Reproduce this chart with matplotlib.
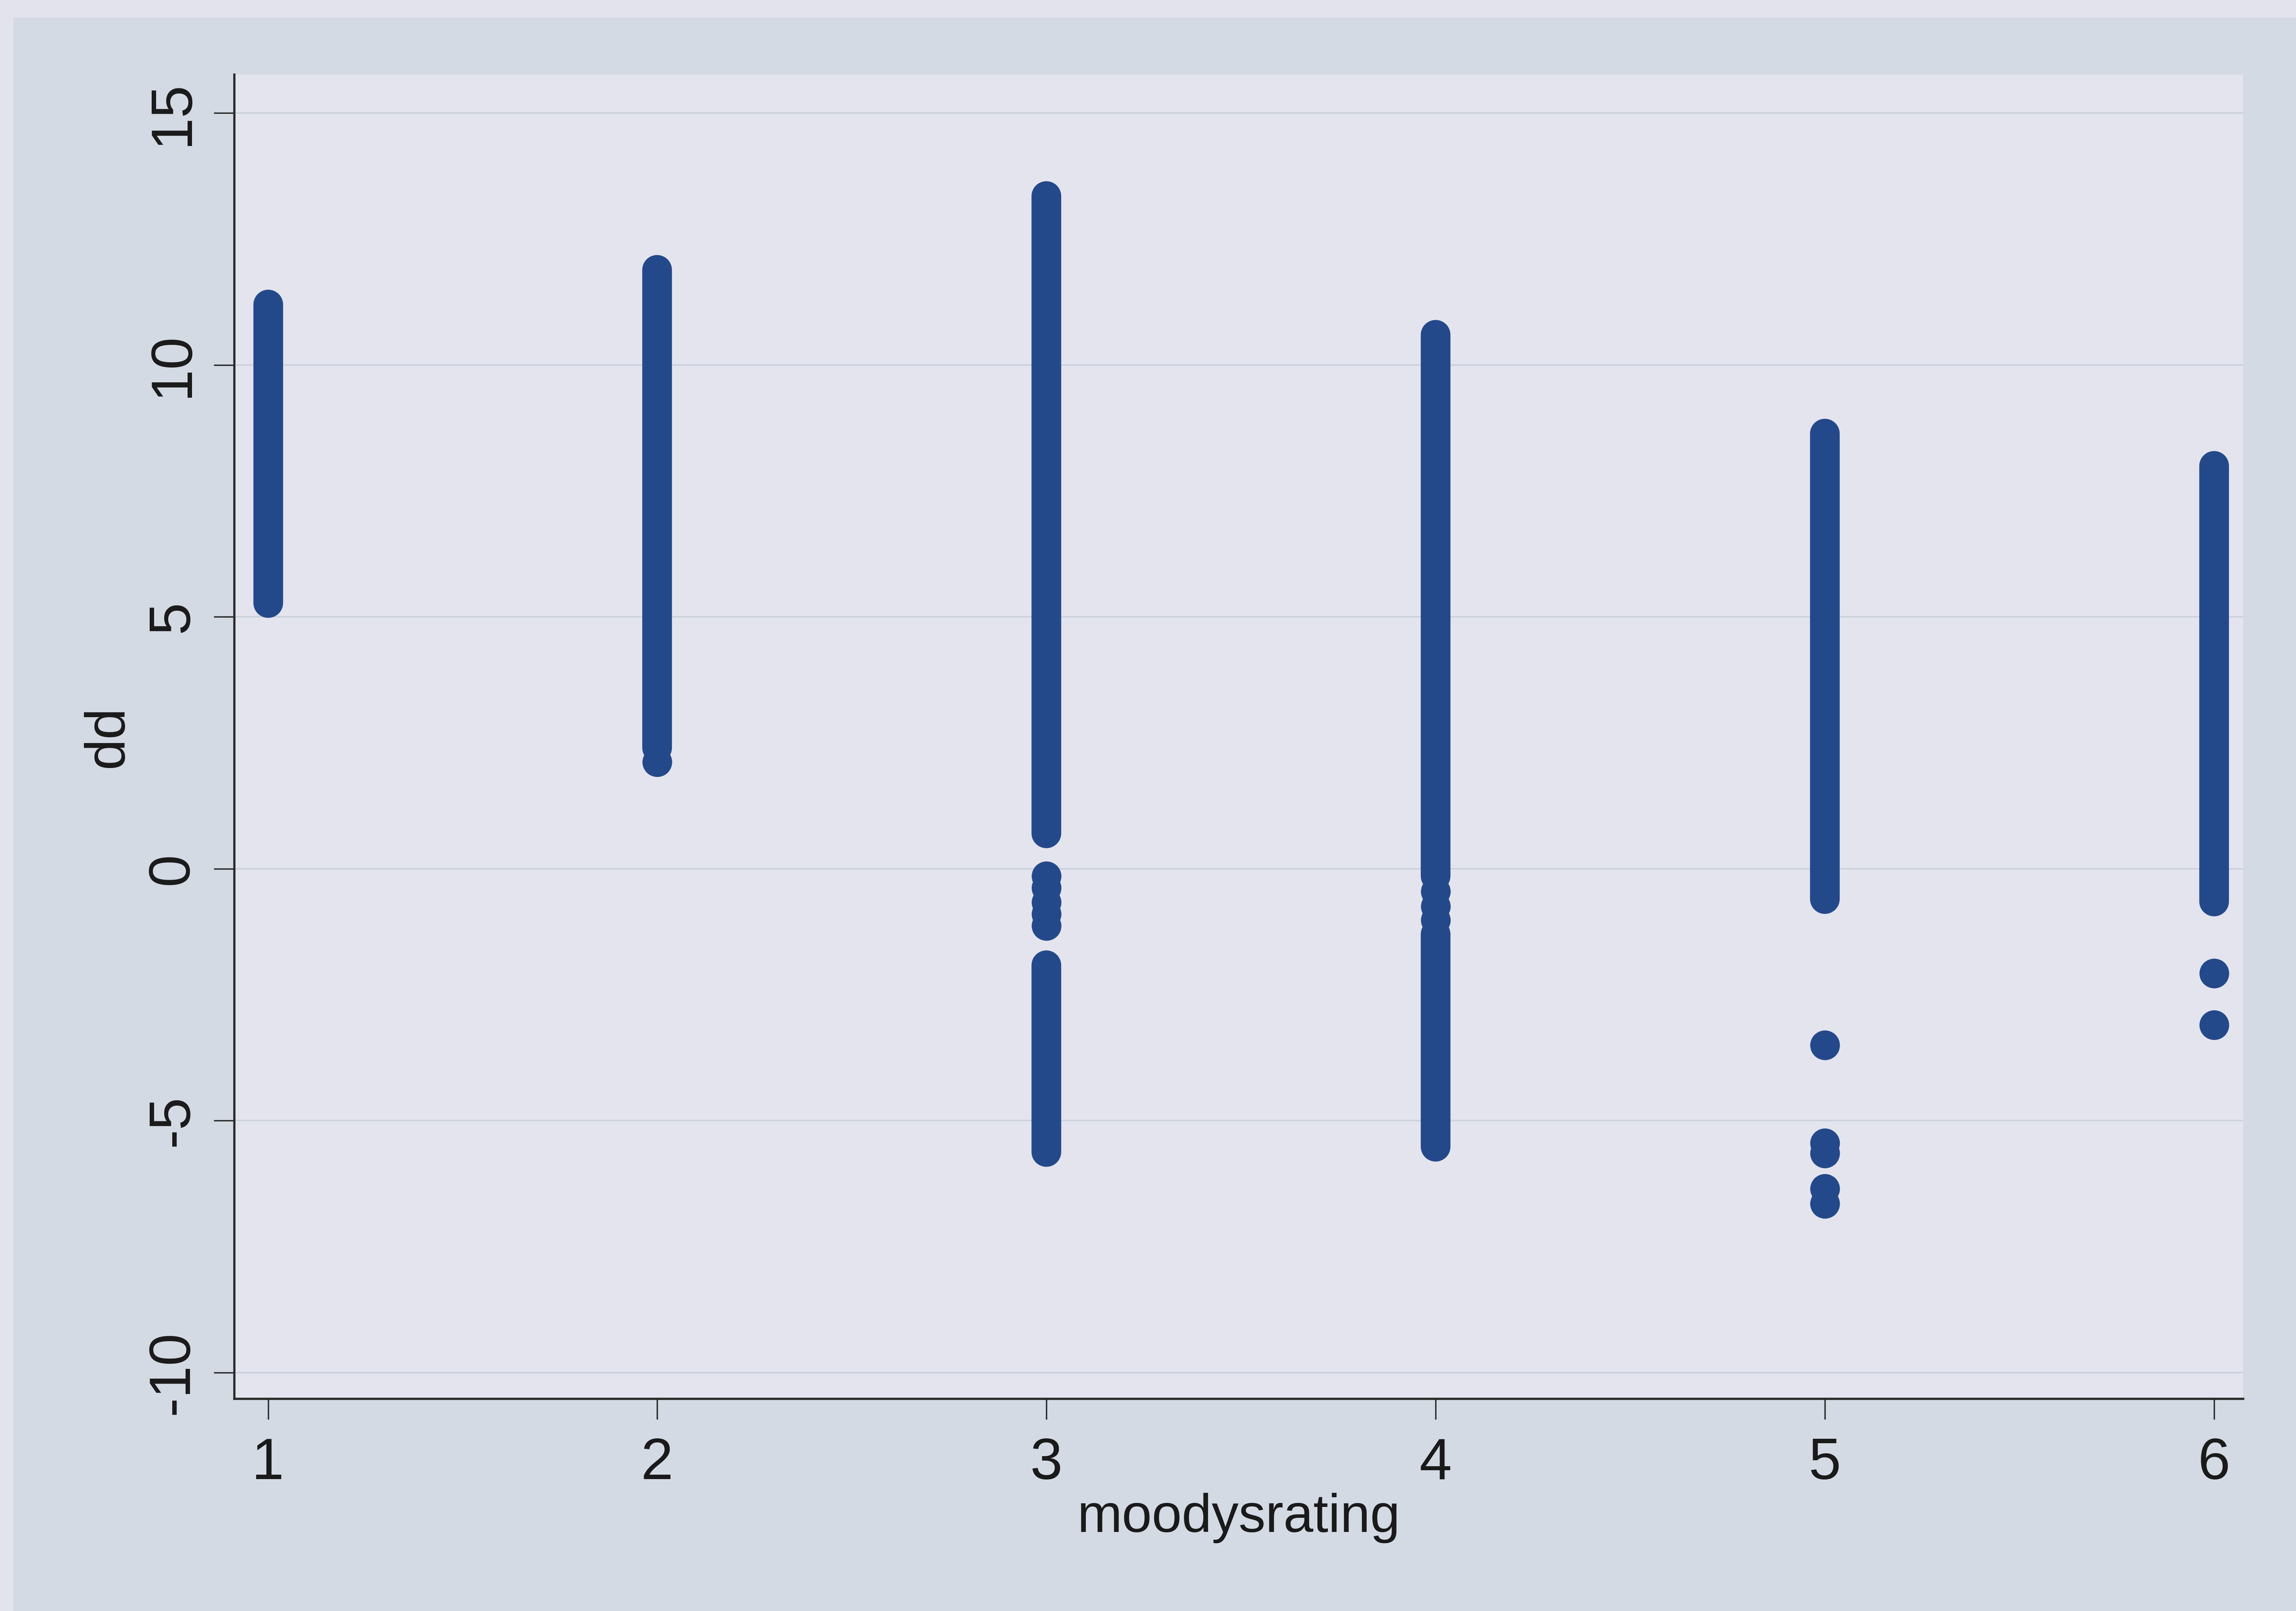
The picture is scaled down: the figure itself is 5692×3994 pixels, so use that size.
import matplotlib
matplotlib.use("Agg")
import matplotlib.pyplot as plt
from matplotlib.patches import Rectangle

plt.rcParams['font.family'] = ['Liberation Sans', 'DejaVu Sans']

# x axis categories
ratings = [1, 2, 3, 4, 5, 6]
x_tick_labels = ["1", "2", "3", "4", "5", "6"]
y_ticks = [-10, -5, 0, 5, 10, 15]

# dense runs of observations (rating, lowest dd, highest dd)
run_rating = [1, 2, 3, 3, 4, 4, 5, 6]
run_low = [5.27, 2.40, 0.70, -5.62, -0.15, -5.52, -0.60, -0.65]
run_high = [11.20, 11.89, 13.35, -1.92, 10.60, -1.30, 8.64, 8.00]

# isolated observations
pt_rating = [2, 3, 3, 3, 3, 3, 4, 4, 4, 5, 5, 5, 5, 5, 6, 6]
pt_dd = [2.12, -0.15, -0.38, -0.67, -0.90, -1.13, -0.45, -0.75, -1.02,
         -3.50, -5.45, -5.65, -6.35, -6.65, -2.08, -3.10]

MARK = '#24498a'

fig = plt.figure(figsize=(56.92, 39.94), dpi=100)
fig.patch.set_facecolor('#d4dae4')
fig.patches.append(Rectangle((0, 1 - 12 / 1100), 1, 12 / 1100, transform=fig.transFigure,
                             facecolor='#e2e3ec', edgecolor='none', zorder=-1))
fig.patches.append(Rectangle((0, 0), 9 / 1568, 1, transform=fig.transFigure,
                             facecolor='#e2e3ec', edgecolor='none', zorder=-1))

ax = fig.add_axes([0.1020, 0.1318, 0.875, 0.8218])
ax.set_facecolor('#e4e4ee')
ax.set_xlim(0.913, 6.075)
ax.set_ylim(-10.52, 15.76)

for s in ['top', 'right']:
    ax.spines[s].set_visible(False)
for s in ['left', 'bottom']:
    ax.spines[s].set_color('#2a2a2a')
    ax.spines[s].set_linewidth(4)

ax.set_axisbelow(True)
ax.yaxis.grid(True, color='#cbd2de', linewidth=2.8)

ax.vlines(run_rating, run_low, run_high, colors=MARK, linewidth=53, capstyle='round', zorder=3)
ax.scatter(pt_rating, pt_dd, s=53 ** 2, color=MARK, linewidths=0, zorder=3)

ax.set_xticks(ratings)
ax.set_xticklabels(x_tick_labels, fontsize=104)
ax.set_yticks(y_ticks)
ax.set_yticklabels([str(v) for v in y_ticks], fontsize=104, rotation=90, va='center')
ax.tick_params(axis='both', length=37, width=2.5, color='#2a2a2a', labelcolor='#1a1a1a')
ax.tick_params(axis='x', pad=31)
ax.tick_params(axis='y', pad=24)

ax.set_xlabel('moodysrating', fontsize=96, color='#1a1a1a')
ax.xaxis.set_label_coords(0.5, -0.071)
ax.set_ylabel('dd', fontsize=100, color='#1a1a1a')
ax.yaxis.set_label_coords(-0.0496, 0.5)

fig.savefig('out.png', dpi=100, facecolor=fig.get_facecolor())
